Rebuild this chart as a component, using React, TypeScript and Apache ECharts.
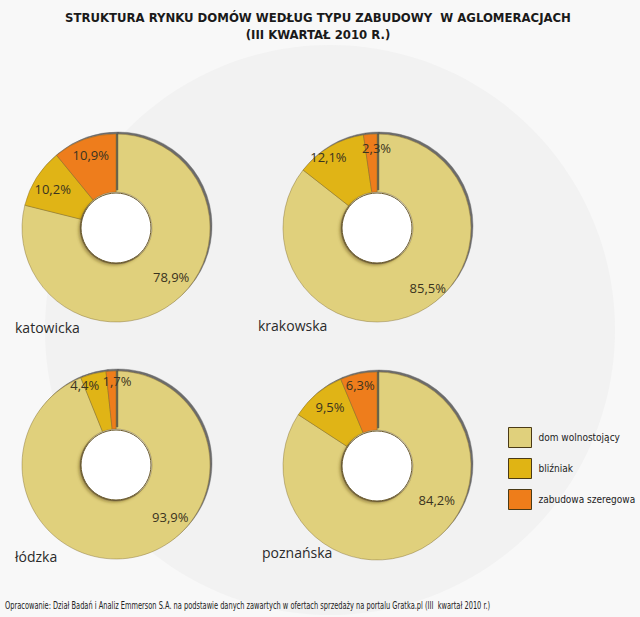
import React, { useEffect, useRef } from "react";
import * as echarts from "echarts";

const categories = ["dom wolnostojący", "bliźniak", "zabudowa szeregowa"];
const regions = ["katowicka", "krakowska", "łódzka", "poznańska"];
const katowicka = [78.9, 10.2, 10.9];
const krakowska = [85.5, 12.1, 2.3];
const lodzka = [93.9, 4.4, 1.7];
const poznanska = [84.2, 9.5, 6.3];
const regionValues = [katowicka, krakowska, lodzka, poznanska];

const colors = ["#e0d07c", "#e0b414", "#ee7d1a"];
const centers: [number, number][] = [
  [116, 228],
  [377, 228],
  [116, 465],
  [377, 466],
];
const regionLabelPos: [number, number][] = [
  [15, 320],
  [258, 318],
  [15, 549],
  [262, 545],
];
// label nudges (px) relative to the library's inside-label anchor
const labelNudges: [number, number][][] = [
  [[9, -10], [0, 1], [0, -2]],
  [[18, -7], [-11, -6], [5, -5]],
  [[40, -22], [-13, -7], [5, -9]],
  [[24, -32], [1, -1], [-2, -7]],
];

export default function App() {
  const ref = useRef<HTMLDivElement>(null);
  useEffect(() => {
    document.body.style.margin = "0";
    const chart = echarts.init(ref.current!, undefined, { renderer: "svg" });
    const fmt = (v: number) => String(v).replace(".", ",") + "%";
    const series: any[] = [];
    regionValues.forEach((vals, i) => {
      series.push({
        type: "pie",
        name: regions[i],
        center: centers[i],
        radius: [36, 94],
        startAngle: 90,
        clockwise: true,
        silent: true,
        label: { show: false },
        labelLine: { show: false },
        itemStyle: {
          borderColor: "rgba(130,110,50,0.55)",
          borderWidth: 0.8,
          shadowColor: "rgba(60,60,60,0.75)",
          shadowOffsetX: 2,
          shadowOffsetY: -2,
          shadowBlur: 1,
        },
        data: vals.map((v, k) => ({
          name: categories[k],
          value: v,
          itemStyle: { color: colors[k] },
        })),
      });
    });
    regionValues.forEach((vals, i) => {
      series.push({
        type: "pie",
        center: centers[i],
        radius: [50, 94],
        startAngle: 90,
        silent: true,
        legendHoverLink: false,
        avoidLabelOverlap: false,
        minShowLabelAngle: 0,
        labelLayout: { hideOverlap: false },
        label: {
          show: true,
          position: "inside",
          formatter: (p: any) => fmt(p.value),
          color: "#3a3320",
          fontSize: 13,
          fontFamily: "Open Sans",
        },
        labelLine: { show: false },
        itemStyle: { color: "rgba(0,0,0,0)" },
        data: vals.map((v, k) => ({
          name: categories[k],
          value: v,
          label: { offset: labelNudges[i][k] },
        })),
      });
      series.push({
        type: "pie",
        center: centers[i],
        radius: [0, 35],
        silent: true,
        label: { show: false },
        labelLine: { show: false },
        itemStyle: {
          color: "#ffffff",
          borderColor: "#6b5a2a",
          borderWidth: 1,
          shadowColor: "rgba(90,70,20,0.45)",
          shadowOffsetX: -2,
          shadowOffsetY: 2,
          shadowBlur: 3,
        },
        data: [{ name: "hole", value: 1 }],
      });
    });

    const titleStyle = {
      fontFamily: "DejaVu Sans Condensed",
      fontWeight: "bold",
      fontSize: 13,
      color: "#1a1a1a",
    };
    const option: any = {
      animation: false,
      backgroundColor: "#f8f8f8",
      title: [
        {
          text: "STRUKTURA RYNKU DOMÓW WEDŁUG TYPU ZABUDOWY  W AGLOMERACJACH",
          left: 313,
          top: 6,
          textAlign: "center",
          textStyle: titleStyle,
        },
        {
          text: "(III KWARTAŁ 2010 R.)",
          left: 313,
          top: 23,
          textAlign: "center",
          textStyle: titleStyle,
        },
        ...regions.map((r, i) => ({
          text: r,
          left: regionLabelPos[i][0],
          top: regionLabelPos[i][1],
          padding: 0,
          textStyle: {
            fontFamily: "Open Sans",
            fontWeight: "normal",
            fontSize: 14,
            color: "#2a2a2a",
          },
        })),
      ],
      legend: {
        data: categories,
        orient: "vertical",
        left: 503,
        top: 422,
        itemWidth: 23,
        itemHeight: 20,
        itemGap: 10,
        icon: "rect",
        selectedMode: false,
        itemStyle: { borderColor: "#4a3a15", borderWidth: 1 },
        textStyle: {
          fontFamily: "DejaVu Sans Condensed",
          fontSize: 10,
          color: "#222",
          padding: [0, 0, 0, 2],
        },
      },
      graphic: [
        {
          type: "circle",
          z: -10,
          silent: true,
          shape: { cx: 330, cy: 330, r: 285 },
          style: { fill: "#f2f2f2" },
        },
        {
          type: "text",
          left: 5,
          top: 601,
          scaleX: 0.74,
          style: {
            text: "Opracowanie: Dział Badań i Analiz Emmerson S.A. na podstawie danych zawartych w ofertach sprzedaży na portalu Gratka.pl (III  kwartał 2010 r.)",
            fontFamily: "DejaVu Sans Condensed",
            fontSize: 10,
            fill: "#222",
          },
        },
      ],
      series,
    };
    chart.setOption(option);
    return () => chart.dispose();
  }, []);
  return <div ref={ref} style={{ width: 640, height: 617 }} />;
}
